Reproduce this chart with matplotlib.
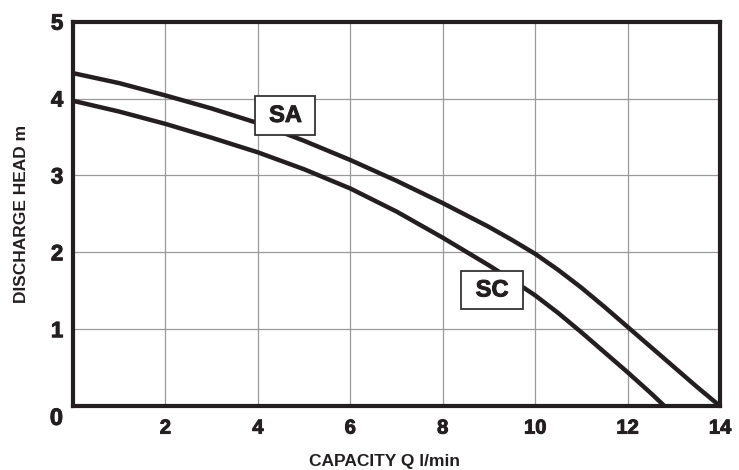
import matplotlib
matplotlib.use("Agg")
import matplotlib.pyplot as plt
import matplotlib.patheffects as pe

# pump curves (capacity l/min -> head m)
sa_q = [0, 1, 2, 3, 4, 5, 6, 7, 8, 9, 9.5, 10, 10.5, 11, 11.5, 12, 12.5, 13, 13.5, 14]
sa_h = [4.33, 4.20, 4.04, 3.87, 3.68, 3.45, 3.20, 2.93, 2.64, 2.33, 2.16, 1.98, 1.77,
        1.54, 1.29, 1.03, 0.77, 0.51, 0.25, 0.0]

sc_q = [0, 1, 2, 3, 4, 5, 6, 7, 8, 8.5, 9, 9.5, 10, 10.5, 11, 11.5, 12, 12.5, 12.8]
sc_h = [3.97, 3.83, 3.67, 3.49, 3.30, 3.08, 2.83, 2.53, 2.19, 2.01, 1.83, 1.64, 1.44,
        1.21, 0.96, 0.70, 0.44, 0.17, 0.0]

x_ticks = [2, 4, 6, 8, 10, 12, 14]
y_ticks = [1, 2, 3, 4, 5]

labels = ["SA", "SC"]
label_pos = [(4.59, 3.78), (9.07, 1.51)]

ink = "#231f20"
plt.rcParams["font.family"] = ["Liberation Sans", "DejaVu Sans"]
heavy = [pe.withStroke(linewidth=0.7, foreground=ink)]

fig = plt.figure(figsize=(7.39, 4.70), dpi=100)
ax = fig.add_axes([0.0988, 0.136, 0.8755, 0.818])

ax.plot(sa_q, sa_h, color=ink, lw=3.2, solid_capstyle="butt", solid_joinstyle="round", zorder=3)
ax.plot(sc_q, sc_h, color=ink, lw=3.2, solid_capstyle="butt", solid_joinstyle="round", zorder=3)

for name, (lx, ly) in zip(labels, label_pos):
    ax.text(lx, ly, " " + name + " ", ha="center", va="center", fontsize=17,
            fontweight="bold", color=ink, zorder=5, path_effects=heavy,
            bbox=dict(boxstyle="square,pad=0.33", fc="white", ec="#333333", lw=1.3))

ax.set_xlim(0, 14)
ax.set_ylim(0, 5)
ax.set_xticks(x_ticks)
ax.set_yticks(y_ticks)
ax.grid(True, color="#9a9a9a", lw=0.9)
ax.set_axisbelow(True)
ax.tick_params(length=0, colors=ink)
ax.tick_params(axis="x", pad=9, labelsize=14.5)
ax.tick_params(axis="y", pad=7, labelsize=16)
for lab in ax.get_xticklabels() + ax.get_yticklabels():
    lab.set_fontweight("bold")
    lab.set_path_effects(heavy)
for sp in ax.spines.values():
    sp.set_linewidth(3)
    sp.set_color(ink)

# the single "0" at the corner
ax.text(-0.0155, -0.032, "0", transform=ax.transAxes, ha="right", va="center",
        fontsize=17, fontweight="bold", color=ink, path_effects=heavy)

ax.set_xlabel("CAPACITY Q l/min", fontsize=12.5, fontweight="bold", color=ink)
ax.xaxis.set_label_coords(0.481, -0.125)
ax.set_ylabel("DISCHARGE HEAD m", fontsize=12.5, fontweight="bold", color=ink, labelpad=16)

fig.savefig("out.png", dpi=100)
